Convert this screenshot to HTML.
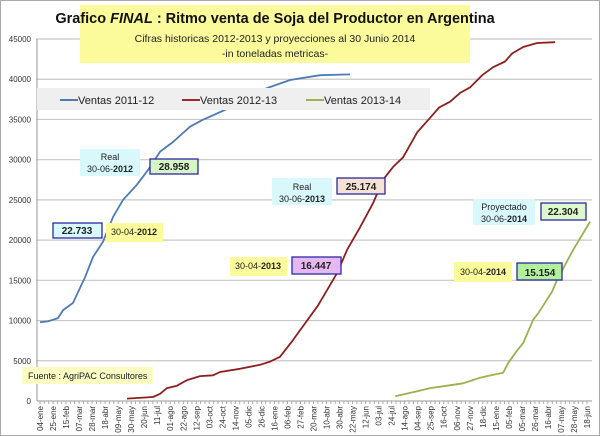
<!DOCTYPE html>
<html><head><meta charset="utf-8"><style>
html,body{margin:0;padding:0;background:#fff;}
svg{display:block;font-family:"Liberation Sans",sans-serif;}
</style></head><body>
<svg id="chart" width="600" height="436" viewBox="0 0 600 436">
<rect x="0.5" y="0.5" width="599" height="435" fill="#fff" stroke="#aaa"/>
<g id="grid"></g>
<g id="yticks"></g>
<g id="xticks"></g>
<g id="series"></g>

<g>
<rect x="80" y="5" width="390" height="58" fill="#fbfb9c"/>
<text x="275" y="23" text-anchor="middle" font-size="14.5" font-weight="bold" fill="#111">Grafico <tspan font-style="italic">FINAL</tspan> :  Ritmo venta de Soja del Productor en Argentina</text>
<text x="275" y="42" text-anchor="middle" font-size="10.5" fill="#222">Cifras historicas 2012-2013 y proyecciones al  30 Junio 2014</text>
<text x="275" y="57" text-anchor="middle" font-size="10.5" fill="#222">-in toneladas metricas-</text>
</g>

<g>
<rect x="37" y="88" width="393" height="22" fill="#efefef"/>
<g><line x1="60" y1="100" x2="78" y2="100" stroke="#4f7bb5" stroke-width="2"/><text x="78" y="104" font-size="11" fill="#222">Ventas 2011-12</text></g>
<g><line x1="182" y1="100" x2="200" y2="100" stroke="#9e2a2a" stroke-width="2"/><text x="200" y="104" font-size="11" fill="#222">Ventas  2012-13</text></g>
<g><line x1="306" y1="100" x2="324" y2="100" stroke="#9bb04e" stroke-width="2"/><text x="324" y="104" font-size="11" fill="#222">Ventas   2013-14</text></g>
</g>

<g font-size="9" fill="#222">
<g><rect x="80" y="149" width="60" height="27" fill="#d8f8fb"/><text x="110" y="160" text-anchor="middle">Real</text><text x="110" y="172" text-anchor="middle">30-06-<tspan font-weight="bold">2012</tspan></text></g>
<g><rect x="150" y="159" width="48" height="15" fill="#d6f6c6" stroke="#2a2aa0" stroke-width="1.3"/><text x="174" y="170" text-anchor="middle" font-weight="bold" font-size="10">28.958</text></g>
<g><rect x="53" y="223" width="49" height="15" fill="#d8f8fb" stroke="#2a2aa0" stroke-width="1.3"/><text x="77" y="234" text-anchor="middle" font-weight="bold" font-size="10">22.733</text></g>
<g><rect x="106" y="223" width="57" height="19" fill="#fbfb9c"/><text x="134" y="235" text-anchor="middle">30-04-<tspan font-weight="bold">2012</tspan></text></g>
<g><rect x="230" y="257" width="57" height="19" fill="#fbfb9c"/><text x="258" y="269" text-anchor="middle">30-04-<tspan font-weight="bold">2013</tspan></text></g>
<g><rect x="292" y="257" width="49" height="17" fill="#e6b8f2" stroke="#2a2aa0" stroke-width="1.3"/><text x="316" y="269" text-anchor="middle" font-weight="bold" font-size="10">16.447</text></g>
<g><rect x="272" y="178" width="60" height="27" fill="#d8f8fb"/><text x="302" y="190" text-anchor="middle">Real</text><text x="302" y="202" text-anchor="middle">30-06-<tspan font-weight="bold">2013</tspan></text></g>
<g><rect x="337" y="178" width="48" height="16" fill="#f6e2d4" stroke="#2a2aa0" stroke-width="1.3"/><text x="361" y="190" text-anchor="middle" font-weight="bold" font-size="10">25.174</text></g>
<g><rect x="473" y="199" width="62" height="26" fill="#d8f8fb"/><text x="504" y="210" text-anchor="middle">Proyectado</text><text x="504" y="222" text-anchor="middle">30-06-<tspan font-weight="bold">2014</tspan></text></g>
<g><rect x="541" y="203" width="45" height="17" fill="#dcf8cc" stroke="#2a2aa0" stroke-width="1.3"/><text x="563" y="215" text-anchor="middle" font-weight="bold" font-size="10">22.304</text></g>
<g><rect x="454" y="262" width="58" height="20" fill="#fbfb9c"/><text x="483" y="275" text-anchor="middle">30-04-<tspan font-weight="bold">2014</tspan></text></g>
<g><rect x="517" y="263" width="45" height="17" fill="#b2f09e" stroke="#2a2aa0" stroke-width="1.3"/><text x="540" y="276" text-anchor="middle" font-weight="bold" font-size="10">15.154</text></g>
<g><rect x="22" y="367" width="131" height="17" fill="#fbfbc4"/><text x="28" y="379">Fuente : AgriPAC Consultores</text></g>
</g>
</svg>
<script>
const xLabels = ["04-ene","25-ene","15-feb","07-mar","28-mar","18-abr","09-may","30-may","20-jun","11-jul","01-ago","22-ago","12-sep","03-oct","24-oct","14-nov","05-dic","26-dic","16-ene","06-feb","27-feb","20-mar","10-abr","30-abr","22-may","12-jun","03-jul","24-jul","14-ago","04-sep","25-sep","16-oct","06-nov","27-nov","18-dic","15-ene","05-feb","05-mar","26-mar","16-abr","07-may","28-may","18-jun"];
const yTicks = [0,5000,10000,15000,20000,25000,30000,35000,40000,45000];
const s1x = [0,0.61,1.38,1.77,2.53,3.46,4.07,4.84,5.61,6.37,7.45,8.29,9.22,10.21,11.52,12.44,14.36,17.43,19.2,21.5,23.8];
const s1y = [9800,9900,10300,11300,12200,15400,17900,19800,22900,25000,26900,28700,31000,32200,34100,34900,36300,38900,39900,40500,40600];
const s2x = [6.68,8.68,9.22,9.75,10.52,11.29,12.29,13.29,13.82,15.36,16.9,17.67,18.43,19.43,21.35,22.81,23.58,24.58,25.58,26.34,27.11,27.88,28.96,29.95,30.65,31.49,32.26,33.03,33.95,34.79,35.71,36.25,37.1,38.17,39.55];
const s2y = [300,500,900,1600,1900,2600,3100,3200,3600,4000,4500,4900,5500,7600,11900,15900,18800,21600,24600,27500,29100,30300,33400,35200,36500,37200,38300,39000,40500,41500,42200,43200,44000,44500,44600];
const s3x = [27.27,28.96,29.95,31.26,32.49,33.79,34.33,35.56,35.94,36.64,37.1,37.86,38.25,39.32,39.71,40.94,42.24];
const s3y = [600,1200,1600,1900,2200,2900,3100,3500,4700,6300,7200,10100,10900,13600,15100,18800,22300];

const NS="http://www.w3.org/2000/svg";
const X0=40, X1=587, Y0=401, Y1=39, YMAX=45000, NX=xLabels.length-1;
function xs(i){return X0+i*(X1-X0)/NX;}
function ys(v){return Y0-v*(Y0-Y1)/YMAX;}
function mk(tag,attrs,parent){const e=document.createElementNS(NS,tag);for(const k in attrs)e.setAttribute(k,attrs[k]);parent.appendChild(e);return e;}
const grid=document.getElementById('grid'), yt=document.getElementById('yticks'), xt=document.getElementById('xticks'), ser=document.getElementById('series');
yTicks.forEach(v=>{
  if(v>0){const g=mk('line',{x1:36,x2:592,y1:ys(v),y2:ys(v),stroke:'#c8c8c8','stroke-width':1.2},grid);
  
  }
  const t=mk('text',{x:31,y:ys(v)+3,'text-anchor':'end','font-size':8,fill:'#333'},yt);
  t.textContent=v;
  
  
});
mk('line',{x1:37,x2:37,y1:39,y2:401,stroke:'#999'},yt);
mk('line',{x1:37,x2:592,y1:401,y2:401,stroke:'#999'},xt);
for(let k=0;k<=NX*3;k++){const x=X0+k*(X1-X0)/(NX*3);mk('line',{x1:x,x2:x,y1:401,y2:404,stroke:'#aaa'},xt);}
xLabels.forEach((l,i)=>{
  const x=xs(i);
  const t=mk('text',{x:0,y:0,transform:`translate(${x+3},406) rotate(-90)`,'text-anchor':'end','font-size':8,fill:'#333'},xt);
  t.textContent=l;
  
  
});
function line(xsArr,ysArr,color,name){
  const d=xsArr.map((x,i)=>(i?'L':'M')+xs(x).toFixed(1)+','+ys(ysArr[i]).toFixed(1)).join(' ');
  const p=mk('path',{d:d,fill:'none',stroke:color,'stroke-width':1.8,'stroke-linejoin':'round'},ser);
  
  
}
line(s1x,s1y,'#4f7bb5','line-ventas-2011-12');
line(s2x,s2y,'#8e1f1f','line-ventas-2012-13');
line(s3x,s3y,'#9bb04e','line-ventas-2013-14');
</script>
</body></html>
